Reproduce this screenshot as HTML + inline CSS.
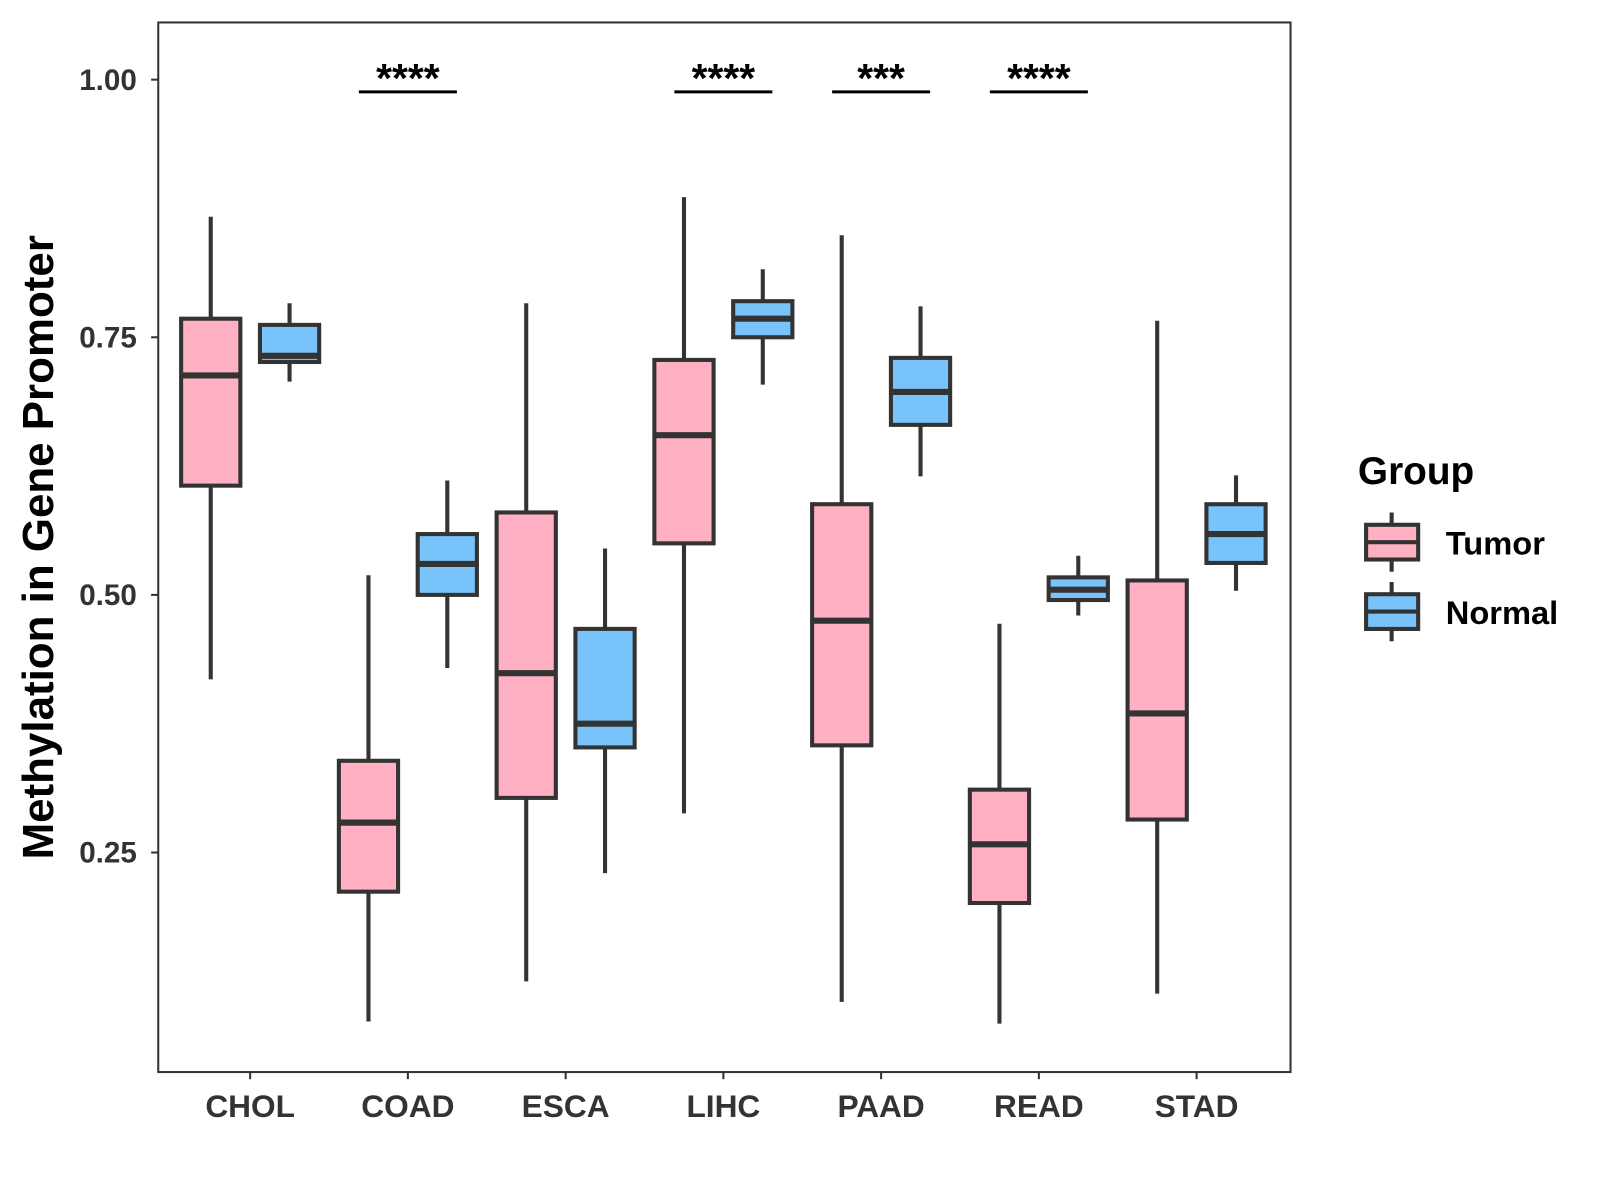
<!DOCTYPE html>
<html><head><meta charset="utf-8"><style>
body{margin:0;background:#fff;}
svg{display:block;font-family:"Liberation Sans",Arial,sans-serif;font-weight:bold;}
</style></head><body>
<svg id="chart" width="1600" height="1200" viewBox="0 0 1600 1200">
<g transform="scale(1.021)">
<rect x="155" y="22" width="1109" height="1028" fill="#fff" stroke="#333" stroke-width="2"/>
<g id="marks"></g>
<text x="52" y="536" font-size="43" fill="#000" text-anchor="middle" transform="rotate(-90 52 536)">Methylation in Gene Promoter</text>
<g>
<text x="1330" y="474" font-size="38" fill="#000">Group</text>
<g>
<line x1="1363" y1="502" x2="1363" y2="560" stroke="#333" stroke-width="4"/>
<rect x="1338" y="514" width="51" height="34" fill="#FFB0C2" stroke="#333" stroke-width="4"/>
<line x1="1338" y1="531" x2="1389" y2="531" stroke="#333" stroke-width="4"/>
<text x="1416" y="543" font-size="32" fill="#000">Tumor</text></g>
<g>
<line x1="1363" y1="570" x2="1363" y2="628" stroke="#333" stroke-width="4"/>
<rect x="1338" y="582" width="51" height="34" fill="#78C3FA" stroke="#333" stroke-width="4"/>
<line x1="1338" y1="599" x2="1389" y2="599" stroke="#333" stroke-width="4"/>
<text x="1416" y="611" font-size="32" fill="#000">Normal</text></g>
</g>
</g>
</svg>
<script>
const categories=["CHOL","COAD","ESCA","LIHC","PAAD","READ","STAD"];
// [min, q1, median, q3, max]
const tumorStats=[[0.418,0.606,0.713,0.768,0.867],[0.086,0.212,0.279,0.339,0.519],[0.125,0.303,0.424,0.580,0.783],[0.288,0.550,0.655,0.728,0.886],[0.105,0.354,0.475,0.588,0.849],[0.084,0.201,0.258,0.311,0.472],[0.113,0.282,0.385,0.514,0.766]];
const normalStats=[[0.707,0.726,0.732,0.762,0.783],[0.429,0.500,0.530,0.559,0.611],[0.230,0.352,0.375,0.467,0.545],[0.704,0.750,0.768,0.785,0.816],[0.615,0.665,0.697,0.730,0.780],[0.480,0.495,0.505,0.517,0.538],[0.504,0.531,0.559,0.588,0.616]];
const sigLabels=["","****","","****","***","****",""];
const yTicks=[0.25,0.50,0.75,1.00];
const yTickLabels=["0.25","0.50","0.75","1.00"];

const NS="http://www.w3.org/2000/svg";
const g=document.getElementById('marks');
function y(v){return 78+(1-v)*1009.3;}
function x(i){return 245+i*154.5;}
function mk(tag,attrs,parent){const e=document.createElementNS(NS,tag);for(const k in attrs)e.setAttribute(k,attrs[k]);(parent||g).appendChild(e);return e;}

yTicks.forEach((t,i)=>{
  const tk=mk('line',{x1:148,x2:155,y1:y(t),y2:y(t),stroke:'#333','stroke-width':2});
  
  
  const lb=mk('text',{x:134,y:y(t)+10,'font-size':29,fill:'#333','text-anchor':'end'});
  lb.textContent=yTickLabels[i];
  
  
});
categories.forEach((c,i)=>{
  const tk=mk('line',{x1:x(i),x2:x(i),y1:1050,y2:1057,stroke:'#333','stroke-width':2});
  
  
  const lb=mk('text',{x:x(i),y:1094,'font-size':31,fill:'#333','text-anchor':'middle'});
  lb.textContent=c;
  
  
});
function box(cx,s,fill,name){
  const grp=mk('g',{});
  
  
  mk('line',{x1:cx,x2:cx,y1:y(s[4]),y2:y(s[0]),stroke:'#333','stroke-width':4},grp);
  mk('rect',{x:cx-29,y:y(s[3]),width:58,height:y(s[1])-y(s[3]),fill:fill,stroke:'#333','stroke-width':4},grp);
  mk('line',{x1:cx-29,x2:cx+29,y1:y(s[2]),y2:y(s[2]),stroke:'#333','stroke-width':6},grp);
}
categories.forEach((c,i)=>{
  box(x(i)-38.6,tumorStats[i],'#FFB0C2','box-tumor-'+c.toLowerCase());
  box(x(i)+38.6,normalStats[i],'#78C3FA','box-normal-'+c.toLowerCase());
  if(sigLabels[i]){
    const l=mk('line',{x1:x(i)-48,x2:x(i)+48,y1:90,y2:90,stroke:'#000','stroke-width':3});
    
    
    const t=mk('text',{x:x(i),y:90,'font-size':40,fill:'#000','text-anchor':'middle'});
    t.textContent=sigLabels[i];
    
    
  }
});
</script>
</body></html>
